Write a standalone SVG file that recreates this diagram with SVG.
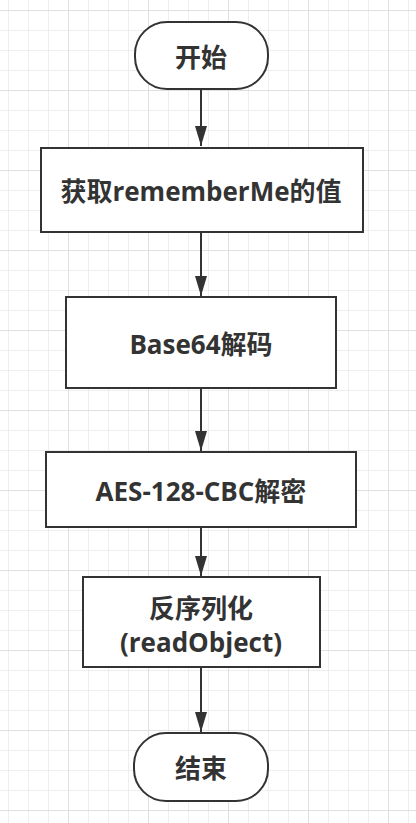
<svg xmlns="http://www.w3.org/2000/svg" width="416" height="823" viewBox="0 0 416 823">
<defs>
<pattern id="minor" x="8" y="10" width="20" height="20" patternUnits="userSpaceOnUse">
<path d="M0 0H20M0 0V20" fill="none" stroke="#e9e9e9" stroke-width="1.5"/>
</pattern>
<pattern id="major" x="68" y="10" width="80" height="80" patternUnits="userSpaceOnUse">
<path d="M0 0H80M0 0V80" fill="none" stroke="#dcdcdc" stroke-width="1.5"/>
</pattern>
<marker id="arr" markerUnits="userSpaceOnUse" markerWidth="20" markerHeight="12" refX="20" refY="6" orient="auto" viewBox="0 0 20 12">
<path d="M0 0L20 6L0 12Z" fill="#333"/>
</marker>
</defs>
<style>
.box{fill:#fff;stroke:#333;stroke-width:2}
.t{font-family:"Open Sans","Noto Sans CJK SC",sans-serif;font-weight:bold;font-size:26px;fill:#333;text-anchor:middle;dominant-baseline:central}
.c{fill:none;stroke:#333;stroke-width:2}
</style>
<rect width="416" height="823" fill="#fff"/>
<rect width="416" height="823" fill="url(#minor)"/>
<rect width="416" height="823" fill="url(#major)"/>
<g id="connectors">
<path class="c" d="M201 89V146" marker-end="url(#arr)"/>
<path class="c" d="M201 232V296" marker-end="url(#arr)"/>
<path class="c" d="M201 388V451" marker-end="url(#arr)"/>
<path class="c" d="M201 527V576" marker-end="url(#arr)"/>
<path class="c" d="M201 667V732" marker-end="url(#arr)"/>
</g>
<g id="start">
<rect class="box" x="135" y="22" width="133" height="67" rx="32"/>
<text class="t" x="201" y="57">开始</text>
</g>
<g id="get">
<rect class="box" x="41" y="148" width="322" height="84"/>
<text class="t" x="201" y="191">获取rememberMe的值</text>
</g>
<g id="base64">
<rect class="box" x="66" y="297" width="270" height="91"/>
<text class="t" x="201" y="344">Base64解码</text>
</g>
<g id="aes">
<rect class="box" x="46" y="452" width="310" height="75"/>
<text class="t" x="201" y="491">AES-128-CBC解密</text>
</g>
<g id="deser">
<rect class="box" x="83" y="577" width="237" height="90"/>
<text class="t" x="201" y="608">反序列化</text>
<text class="t" x="201" y="642">(readObject)</text>
</g>
<g id="end">
<rect class="box" x="134" y="733" width="134" height="68" rx="32"/>
<text class="t" x="201" y="768">结束</text>
</g>
</svg>
